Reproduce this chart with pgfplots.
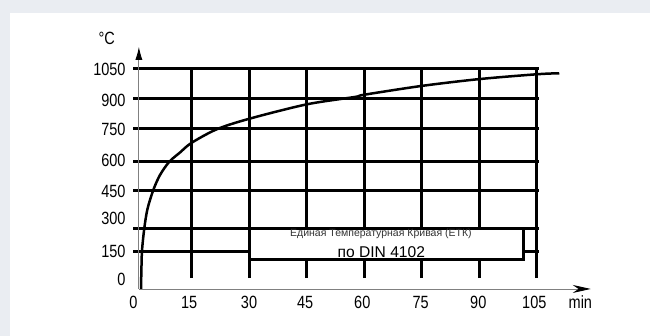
\documentclass[border=0pt]{standalone}
\usepackage{fontspec}
\setmainfont{Liberation Sans}
\newfontfamily\narrowfont{Liberation Sans}[FakeStretch=0.82]
\newcommand{\tickfont}{\narrowfont\fontsize{17.7bp}{20bp}\selectfont}
\usepackage{pgfplots}
\pgfplotsset{compat=1.18}
\usetikzlibrary{arrows.meta}
\definecolor{bandgray}{RGB}{234,237,242}
\begin{document}
\begin{tikzpicture}
\begin{axis}[
 set layers,
 scale only axis, width=458.0bp, height=242.2bp,
 xmin=-0.3, xmax=119, ymin=-50, ymax=1157,
 clip=false, axis line style={draw=none},
 major tick length=0pt, tick style={draw=none},
 xtick={-0.16,14.4,30,44.6,59.5,74.7,89.7,104.3},
 xticklabels={0,15,30,45,60,75,90,105},
 ytick={-1,138.5,304,438.4,588.4,742.9,890,1042.8},
 yticklabels={0,150,300,450,600,750,900,1050},
 /pgf/number format/assume math mode=true,
 xticklabel style={font=\tickfont, inner sep=0pt, anchor=base, yshift=-20bp},
 yticklabel style={font=\tickfont, inner sep=0pt, anchor=east, xshift=-7bp},
]
\begin{pgfonlayer}{axis background}
\fill[bandgray] (axis cs:-34.88,-284) rectangle (axis cs:134.44,1390.1);
\fill[white] (axis cs:-32.27,-284) rectangle (axis cs:134.44,1325.4);
\end{pgfonlayer}
% horizontal grid lines
\draw[line width=3bp] (axis cs:-0.16,1049.8) -- (axis cs:105.4,1049.8);
\draw[line width=3bp] (axis cs:-0.16,900.3) -- (axis cs:105.4,900.3);
\draw[line width=3bp] (axis cs:-0.16,750.9) -- (axis cs:105.4,750.9);
\draw[line width=3bp] (axis cs:-0.16,586.4) -- (axis cs:105.4,586.4);
\draw[line width=3bp] (axis cs:-0.16,442) -- (axis cs:105.4,442);
\draw[line width=3bp] (axis cs:-0.16,252.6) -- (axis cs:105.4,252.6);
\draw[line width=3bp] (axis cs:-0.16,137) -- (axis cs:105.4,137);
% vertical grid lines
\draw[line width=3bp] (axis cs:15,3.5) -- (axis cs:15,1057);
\draw[line width=3bp] (axis cs:30,3.5) -- (axis cs:30,1057);
\draw[line width=3bp] (axis cs:45,3.5) -- (axis cs:45,1057);
\draw[line width=3bp] (axis cs:60,3.5) -- (axis cs:60,1057);
\draw[line width=3bp] (axis cs:75,3.5) -- (axis cs:75,1057);
\draw[line width=3bp] (axis cs:90,3.5) -- (axis cs:90,1057);
\draw[line width=3bp] (axis cs:105,3.5) -- (axis cs:105,1057);
% label box
\draw[line width=3bp, fill=white] (axis cs:30,252.6) rectangle (axis cs:101.4,94.7);
\node[anchor=base, text=black!80, font=\fontsize{10.5bp}{12bp}\selectfont] at (axis cs:64.35,210.7) {Единая Температурная Кривая (ЕТК)};
\node[anchor=base, font=\fontsize{15.6bp}{18bp}\selectfont] at (axis cs:64.45,104.5) {по DIN 4102};
% axes
\draw[gray, line width=0.9bp, -{Latex[black,length=13bp,width=7bp]}] (axis cs:1.3,-50) -- (axis cs:1.3,1157);
\draw[gray, line width=0.9bp, -{Stealth[black,length=18bp,width=8bp]}] (axis cs:1.3,-50) -- (axis cs:119,-50);
\node[anchor=base, font=\tickfont] at (axis cs:-7.09,1166) {°C};
\node[anchor=base, font=\tickfont] at (axis cs:116.3,-146.5) {min};
% ETK curve
\addplot[black, line width=2.5bp, smooth, tension=0.5] coordinates {
(1.85,-50) (1.95,40) (2.11,140) (2.71,253) (3.54,349) (5.05,443) (6.8,518)
(9.22,584) (12,630) (15,678) (21.6,746) (30,798) (45,870) (57.6,907)
(60,918) (75,962) (90,996) (105,1020) (110.8,1025)
};
\end{axis}
\end{tikzpicture}
\end{document}
